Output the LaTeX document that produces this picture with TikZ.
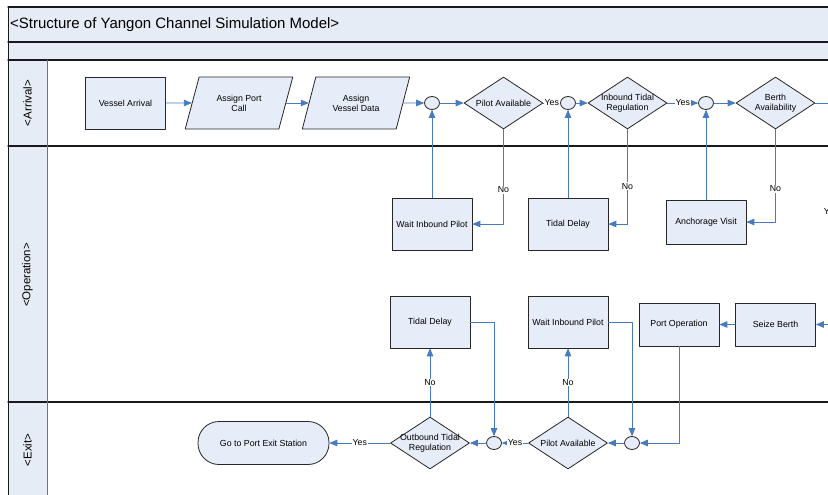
\documentclass[tikz,border=0pt]{standalone}
\usepackage{fontspec}
\setmainfont{Liberation Sans}
\usepackage{tikz}
\usetikzlibrary{arrows}
\usetikzlibrary{shapes.geometric}

\definecolor{lanefill}{RGB}{230,236,246}
\definecolor{boxfill}{RGB}{231,237,248}
\definecolor{flowblue}{RGB}{72,122,192}
\definecolor{framegray}{RGB}{25,25,25}

\begin{document}
\begin{tikzpicture}[line cap=round,line join=round,>=triangle 45,x=1pt,y=-1pt,
    proc/.style={draw=black!85,line width=0.8pt,fill=boxfill,minimum width=80pt,minimum height=52pt,inner sep=1pt,align=center,font=\fontsize{8.8}{10}\selectfont},
    data/.style={trapezium,trapezium left angle=66,trapezium right angle=114,trapezium stretches=true,draw=black!85,line width=0.8pt,fill=boxfill,minimum width=108pt,minimum height=52pt,inner sep=1pt,align=center,font=\fontsize{8.8}{10}\selectfont},
    dec/.style={diamond,draw=black!85,line width=0.8pt,fill=boxfill,shape aspect=1.52,minimum width=79pt,minimum height=52pt,inner sep=-3pt,align=center,font=\fontsize{8.8}{10}\selectfont},
    merge/.style={ellipse,draw=black!85,line width=0.8pt,fill=boxfill,minimum width=15pt,minimum height=13pt,inner sep=0pt},
    term/.style={draw=black!85,line width=0.8pt,fill=boxfill,rounded corners=21pt,minimum width=131pt,minimum height=43pt,align=center,font=\fontsize{8.8}{10}\selectfont},
    flow/.style={->,draw=flowblue,line width=0.8pt},
    lbl/.style={fill=white,inner sep=0.8pt,font=\fontsize{8.8}{10}\selectfont},
    lanelbl/.style={rotate=90,inner sep=0pt,font=\fontsize{11.5}{13}\selectfont}]
        \useasboundingbox (0,0) rectangle (828,495);
        \clip (0,0) rectangle (828,495);
        % lanes
        \fill[lanefill] (8,7) rectangle (840,60);
        \fill[lanefill] (8,60) rectangle (47,500);
        \foreach \y in {7,42,60,146,402}
        \draw[framegray,line width=1.3pt] (8,\y) -- (840,\y);
        \draw[framegray,line width=0.8pt] (8,7) -- (8,500);
        \draw[black!55,line width=0.8pt] (47,60) -- (47,500);
        \node[anchor=west,inner sep=0pt,font=\fontsize{15}{18}\selectfont] (title) at (10,25) {<Structure of Yangon Channel Simulation Model>};
        \node[lanelbl] (arrival) at (27.5,103) {<Arrival>};
        \node[lanelbl] (operation) at (27.5,275) {<Operation>};
        \node[lanelbl] (exitlane) at (27.5,450) {<Exit>};
        % arrival
        \node[proc] (va) at (125.5,103) {Vessel Arrival};
        \node[data] (apc) at (239,103) {Assign Port\\Call};
        \node[data] (avd) at (356,103) {Assign\\Vessel Data};
        \node[merge] (c1) at (432,103) {};
        \node[dec] (pa1) at (503.5,103) {Pilot Available};
        \node[merge] (c2) at (568,103) {};
        \node[dec] (itr) at (627.5,103) {Inbound Tidal\\Regulation};
        \node[merge] (c3) at (706,103) {};
        \node[dec] (ba) at (775.5,103) {Berth\\Availability};
        % operation
        \node[proc] (wip1) at (432,224) {Wait Inbound Pilot};
        \node[proc] (td1) at (568,224) {Tidal Delay};
        \node[proc,minimum height=44pt] (av) at (706,222) {Anchorage Visit};
        \node[proc] (td2) at (430,322) {Tidal Delay};
        \node[proc] (wip2) at (568,322) {Wait Inbound Pilot};
        \node[proc,minimum height=43pt] (po) at (679,324.5) {Port Operation};
        \node[proc,minimum height=43pt] (sb) at (775.5,324.5) {Seize Berth};
        \coordinate (offr) at (831,212);
        % exit
        \node[term] (goexit) at (263.5,443) {Go to Port Exit Station};
        \node[dec] (otr) at (430,443) {Outbound Tidal\\Regulation};
        \node[merge] (c4) at (494,443) {};
        \node[dec] (pa2) at (568,443) {Pilot Available};
        \node[merge] (c5) at (632,443) {};
        % connectors
        \draw[flow] (va) -- (apc);
        \draw[flow] (apc) -- (avd);
        \draw[flow] (avd) -- (c1);
        \draw[flow] (c1) -- (pa1);
        \draw[flow] (pa1) -- node[lbl] (y1) {Yes} (c2);
        \draw[flow] (c2) -- (itr);
        \draw[flow] (itr) -- node[lbl] (y2) {Yes} (c3);
        \draw[flow] (c3) -- (ba);
        \draw[flow] (ba.east) -| (offr) |- (sb.east);
        \node[lbl] (y3) at (offr) {Yes};
        \draw[flow] (pa1.south) |- node[lbl,pos=0.32] (n1) {No} (wip1.east);
        \draw[flow] (itr.south) |- node[lbl,pos=0.3] (n2) {No} (td1.east);
        \draw[flow] (ba.south) |- node[lbl,pos=0.32] (n3) {No} (av.east);
        \draw[flow] (wip1) -- (c1);
        \draw[flow] (td1) -- (c2);
        \draw[flow] (av) -- (c3);
        \draw[flow] (sb) -- (po);
        \draw[flow] (po.south) |- (c5.east);
        \draw[flow] (wip2.east) -| (c5.north);
        \draw[flow] (td2.east) -| (c4.north);
        \draw[flow] (c5) -- (pa2);
        \draw[flow] (pa2) -- node[lbl] (y4) {Yes} (c4);
        \draw[flow] (c4) -- (otr);
        \draw[flow] (otr) -- node[lbl] (y5) {Yes} (goexit);
        \draw[flow] (otr) -- node[lbl] (n4) {No} (td2);
        \draw[flow] (pa2) -- node[lbl] (n5) {No} (wip2);
\end{tikzpicture}
\end{document}
